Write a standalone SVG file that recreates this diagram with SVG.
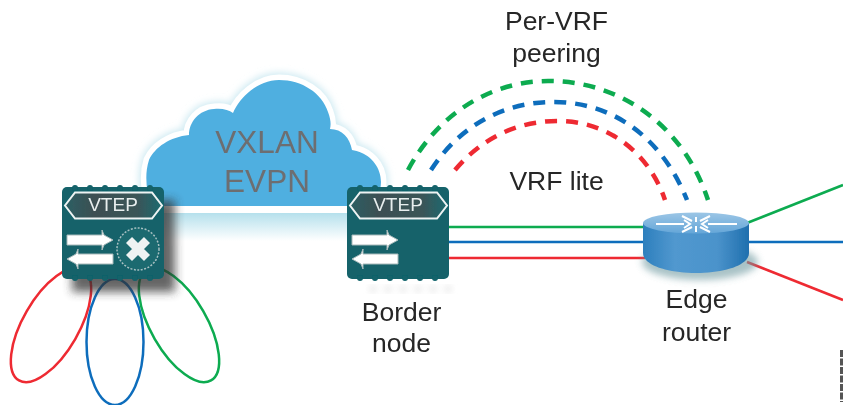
<svg xmlns="http://www.w3.org/2000/svg" width="843" height="406" viewBox="0 0 843 406">
<style>
text{font-family:"Liberation Sans",Arial,sans-serif}
.lbl{font-size:26.500px;fill:#262626;text-anchor:middle}
.cl{font-size:31.500px;fill:#6d6e71;text-anchor:middle}
.vt{font-size:19px;fill:#e8eeee;text-anchor:middle}
.body{fill:#12626a}
.pill{fill:url(#pillg);stroke:#eef3f3;stroke-width:2}
.arr{fill:#fff;stroke:#a9b9ba;stroke-width:1}
.g{stroke:#09ab50}.b{stroke:#0f6dbc}.r{stroke:#ee2a32}
.ln{fill:none;stroke-width:2.500}
.dash{fill:none;stroke-width:4.500;stroke-dasharray:12 9}
</style>
<defs>
<linearGradient id="pillg" x1="0" x2="1" y1="0" y2="0"><stop offset="0" stop-color="#2b5f64"/><stop offset=".3" stop-color="#3c4f52"/><stop offset=".75" stop-color="#3a5558"/><stop offset="1" stop-color="#1c6a70"/></linearGradient>
<linearGradient id="cyl" x1="0" x2="1" y1="0" y2="0"><stop offset="0" stop-color="#2d7fbd"/><stop offset=".3" stop-color="#5198cf"/><stop offset=".7" stop-color="#4b93cb"/><stop offset="1" stop-color="#1f6fae"/></linearGradient>
<linearGradient id="cap" x1="0" x2="0" y1="0" y2="1"><stop offset="0" stop-color="#9cc6e6"/><stop offset="1" stop-color="#64a6d8"/></linearGradient>
<linearGradient id="glow" x1="0" x2="0" y1="0" y2="1"><stop offset="0" stop-color="#b5e0ec"/><stop offset="1" stop-color="#fff"/></linearGradient>
<filter id="blur" x="-30%" y="-30%" width="160%" height="160%"><feGaussianBlur stdDeviation="5"/></filter>
<filter id="soft" x="-30%" y="-30%" width="160%" height="160%"><feGaussianBlur stdDeviation="3.500"/></filter>
<filter id="img" x="0" y="0" width="100%" height="100%"><feGaussianBlur stdDeviation="0.450"/></filter>
<path id="cloudshape" d="M150 206C147 190 144 176 149 160C155 147 170 137 189 135C189 122 199 110 214 109C222 108 229 110 233 113C240 97 258 80 279 80C302 80 322 93 328 112C331 120 331 125 330 129C342 129 350 138 352 150C368 152 381 165 381 182C381 193 375 201 368 206Z"/>
<g id="bumps"><circle cx="0" cy="0" r="3"/><circle cx="15" cy="0" r="3"/><circle cx="30" cy="0" r="3"/><circle cx="45" cy="0" r="3"/><circle cx="60" cy="0" r="3"/><circle cx="75" cy="0" r="3"/></g>
<path id="rarrow" d="M0 6H35V1L37 6L46 11L37 16L35 21V16H0Z"/>
<path id="larrow" d="M46 6H11V1L9 6L0 11L9 16L11 21V16H46Z"/>
</defs>
<g filter="url(#img)">
<g id="cloud">
<use href="#cloudshape" fill="#bfe4ee" stroke="#cfeaf2" stroke-width="15" filter="url(#soft)"/>
<rect x="140" y="206" width="250" height="40" fill="#fff"/>
<use href="#cloudshape" fill="#fff" stroke="#fff" stroke-width="11"/>
<rect x="146" y="213" width="240" height="28" fill="url(#glow)"/>
<use href="#cloudshape" fill="#50afe0"/>
<text class="cl" x="267" y="153">VXLAN</text>
<text class="cl" x="267" y="192">EVPN</text>
</g>

<g id="connectors">
<line class="ln g" x1="449" y1="227" x2="645" y2="227"/>
<line class="ln b" x1="449" y1="242" x2="645" y2="242"/>
<line class="ln r" x1="449" y1="258" x2="645" y2="258"/>
<line class="ln g" x1="747" y1="223" x2="843" y2="185"/>
<line class="ln b" x1="747" y1="242" x2="843" y2="242"/>
<line class="ln r" x1="747" y1="262" x2="843" y2="300"/>
<path class="dash g" d="M408 170C440 110 495 81 548 81C625 81 685 130 708 200"/>
<path class="dash b" d="M431 170C460 125 505 102 553 102C620 102 665 145 687 200"/>
<path class="dash r" d="M455 170C480 140 515 121 558 121C610 121 650 155 665 200"/>
<ellipse class="ln r" cx="51" cy="325" rx="28" ry="64" transform="rotate(30 51 325)"/>
<ellipse class="ln b" cx="115" cy="342" rx="28.500" ry="63"/>
<ellipse class="ln g" cx="179" cy="325" rx="28" ry="64" transform="rotate(-30 179 325)"/>
</g>

<g id="vtep-left">
<rect x="72" y="200" width="103" height="92" fill="#333" opacity=".75" filter="url(#blur)"/>
<rect class="body" x="62" y="187" width="102" height="92" rx="5"/>
<use href="#bumps" x="75" y="188" class="body"/>
<use href="#bumps" x="75" y="278" class="body"/>
<path class="pill" d="M75 192.500H152L162 205.500L152 218.500H75L65 205.500Z"/>
<text class="vt" x="113" y="211">VTEP</text>
<use href="#rarrow" x="67" y="229" class="arr"/>
<use href="#larrow" x="67" y="248" class="arr"/>
<circle cx="138" cy="249" r="21" fill="#1c6a70" stroke="#a9c0c2" stroke-width="1.500" stroke-dasharray="2 1.500"/>
<path d="M129 240L147 258M147 240L129 258" stroke="#eef3f3" stroke-width="8.500" fill="none"/>
</g>

<g id="vtep-border">
<rect class="body" x="347" y="187" width="102" height="92" rx="5"/>
<use href="#bumps" x="360" y="188" class="body"/>
<use href="#bumps" x="360" y="278" class="body"/>
<path class="pill" d="M360 192.500H437L447 205.500L437 218.500H360L350 205.500Z"/>
<text class="vt" x="398" y="211">VTEP</text>
<use href="#rarrow" x="352" y="229" class="arr"/>
<use href="#larrow" x="352" y="248" class="arr"/>
<use href="#bumps" x="373" y="289" fill="#d4d4d4" filter="url(#soft)" opacity=".8"/>
<text class="lbl" x="401.500" y="321">Border</text>
<text class="lbl" x="401.500" y="352">node</text>
</g>

<g id="edge-router">
<ellipse cx="700" cy="262" rx="58" ry="18" fill="#6f9aa0" opacity=".6" filter="url(#soft)"/>
<path d="M643 223V253C643 265 667 273 696 273C725 273 749 265 749 253V223Z" fill="url(#cyl)"/>
<ellipse cx="696" cy="223" rx="53" ry="10.500" fill="url(#cap)"/>
<path d="M656 224H684M708 224H737M696 217V222M696 226V232M684 220L690 224L684 228M708 220L702 224L708 228M682 216L692 221M710 216L700 221M682 232L692 227M710 232L700 227" fill="none" stroke="#fff" stroke-width="2"/>
<text class="lbl" x="696.500" y="308">Edge</text>
<text class="lbl" x="696.500" y="341">router</text>
</g>

<g id="labels">
<text class="lbl" x="556.500" y="30">Per-VRF</text>
<text class="lbl" x="556.500" y="62">peering</text>
<text class="lbl" x="556.500" y="190">VRF lite</text>
</g>
<line id="edge-sliver" x1="841.500" y1="350" x2="841.500" y2="402" stroke="#555" stroke-width="3" stroke-dasharray="7 1.500"/>
</g>
</svg>
